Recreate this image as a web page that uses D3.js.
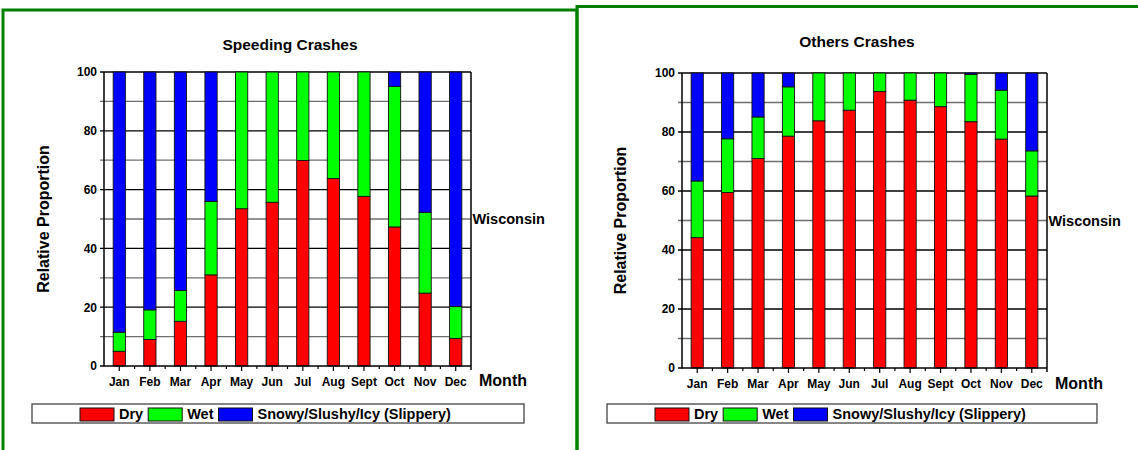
<!DOCTYPE html>
<html><head><meta charset="utf-8">
<script src="https://cdn.jsdelivr.net/npm/d3@7"></script>
<style>
html,body{margin:0;padding:0;background:#fff;}
svg{display:block;font-family:"Liberation Sans",Arial,sans-serif;}
</style></head>
<body>
<svg id="chart" width="1138" height="450"></svg>
<script>
// ---- data ----
const months = ["Jan","Feb","Mar","Apr","May","Jun","Jul","Aug","Sept","Oct","Nov","Dec"];
const seriesNames = ["Dry","Wet","Snowy/Slushy/Icy (Slippery)"];
const yTicks = [0,20,40,60,80,100];

const speedingDry      = [5.0, 9.0, 15.2, 31.0, 53.5, 55.7, 69.9, 63.8, 57.7, 47.3, 24.8, 9.4];
const speedingWet      = [6.5, 10.1, 10.5, 25.0, 46.5, 44.3, 30.1, 36.2, 42.3, 47.8, 27.5, 10.8];
const speedingSlippery = [88.5, 80.9, 74.3, 44.0, 0, 0, 0, 0, 0, 4.9, 47.7, 79.8];

const othersDry      = [44.2, 59.5, 71.0, 78.6, 83.8, 87.4, 93.7, 90.8, 88.6, 83.5, 77.6, 58.3];
const othersWet      = [19.2, 18.2, 14.1, 16.7, 16.2, 12.6, 6.3, 9.2, 11.4, 16.0, 16.6, 15.3];
const othersSlippery = [36.6, 22.3, 14.9, 4.7, 0, 0, 0, 0, 0, 0.5, 5.8, 26.4];

const colors = ["#ff0000","#00ff00","#0000ff"];

const svg = d3.select("#chart");

// panel borders
svg.append("path").attr("d","M3,452V10H577V452").attr("fill","none").attr("stroke","#008000").attr("stroke-width",3);
svg.append("path").attr("d","M577,452V6.5H1140").attr("fill","none").attr("stroke","#008000").attr("stroke-width",3);

function drawChart(cfg, dry, wet, slip) {
  const g = svg.append("g");
  const {x0,x1,y0,y1} = cfg;
  const x = d3.scaleBand().domain(months).range([x0,x1]).paddingInner(0.6).paddingOuter(0.3);
  const y = d3.scaleLinear().domain([0,100]).range([y0,y1]);

  // grid lines (every 10), major at multiples of 20
  const grid = d3.range(10,101,10);
  g.selectAll(".grid").data(grid).enter().append("line")
    .attr("x1", x0-4).attr("x2", x1)
    .attr("y1", d=>y(d)).attr("y2", d=>y(d))
    .attr("stroke", d=> d%20===0 ? "#000" : "#6e6e6e")
    .attr("stroke-width", 1.3);

  // bars
  const rows = months.map((m,i)=>({month:m, Dry:dry[i], Wet:wet[i], Slip:slip[i]}));
  const stack = d3.stack().keys(["Dry","Wet","Slip"])(rows);
  stack.forEach((layer,li)=>{
    g.selectAll(null).data(layer.filter(d=>d[1]-d[0]>0)).enter().append("rect")
      .attr("x", d=>x(d.data.month))
      .attr("width", x.bandwidth())
      .attr("y", d=>y(d[1]))
      .attr("height", d=>y(d[0])-y(d[1]))
      .attr("fill", colors[li])
      .attr("stroke","#111").attr("stroke-width",0.9);
  });

  // frame: left axis, right edge, bottom axis
  g.append("line").attr("x1",x0).attr("x2",x0).attr("y1",y(100)).attr("y2",y(0)+0.5).attr("stroke","#000").attr("stroke-width",1.5);
  g.append("line").attr("x1",x1).attr("x2",x1).attr("y1",y(100)).attr("y2",y(0)+4).attr("stroke","#000").attr("stroke-width",1.5);
  g.append("line").attr("x1",x0-4).attr("x2",x1).attr("y1",y(0)).attr("y2",y(0)).attr("stroke","#000").attr("stroke-width",1.5);

  // y tick labels
  g.selectAll(".yt").data(yTicks).enter().append("text")
    .attr("x", x0-7).attr("y", d=>y(d)).attr("dy","0.36em")
    .attr("text-anchor","end").attr("font-size",12).attr("font-weight","bold")
    .text(d=>d);

  // x ticks
  const step = x.step();
  g.selectAll(".xt").data(months).enter().append("line")
    .attr("x1", d=>x(d)+x.bandwidth()/2).attr("x2", d=>x(d)+x.bandwidth()/2)
    .attr("y1", y(0)).attr("y2", y(0)+5).attr("stroke","#000").attr("stroke-width",1.2);
  g.selectAll(".xm").data(d3.range(1,months.length)).enter().append("line")
    .attr("x1", i=>x0+i*step).attr("x2", i=>x0+i*step)
    .attr("y1", y(0)).attr("y2", y(0)+3).attr("stroke","#000").attr("stroke-width",1.2);
  g.selectAll(".xl").data(months).enter().append("text")
    .attr("x", d=>x(d)+x.bandwidth()/2).attr("y", y(0)+cfg.xLabelDy)
    .attr("text-anchor","middle").attr("font-size",12).attr("font-weight","bold")
    .text(d=>d);

  // titles
  g.append("text").attr("x", cfg.titleX).attr("y", cfg.titleY).attr("text-anchor","middle")
    .attr("font-size",15.5).attr("font-weight","bold").text(cfg.title);
  g.append("text").attr("transform",`translate(${cfg.yLabelX},${(y0+y1)/2}) rotate(-90)`)
    .attr("text-anchor","middle").attr("dy","0.36em")
    .attr("font-size",16).attr("font-weight","bold").text("Relative Proportion");
  g.append("text").attr("x", x1+8).attr("y", y(0)+cfg.monthDy)
    .attr("font-size",16).attr("font-weight","bold").text("Month");
  g.append("text").attr("x", x1+1.5).attr("y", y(50)).attr("dy","0.36em")
    .attr("font-size",14.5).attr("font-weight","bold").text("Wisconsin");

  // legend
  const L = cfg.legend;
  g.append("rect").attr("x",L.x).attr("y",L.y).attr("width",L.w).attr("height",L.h)
    .attr("fill","#fff").attr("stroke","#444").attr("stroke-width",1.3);
  let lx = L.sx;
  seriesNames.forEach((name,i)=>{
    g.append("rect").attr("x",lx).attr("y",L.y+4).attr("width",34).attr("height",13)
      .attr("fill",colors[i]).attr("stroke","#111").attr("stroke-width",1);
    const t = g.append("text").attr("x",lx+39).attr("y",L.y+L.h/2).attr("dy","0.36em")
      .attr("font-size",14.5).attr("font-weight","bold").text(name);
    lx = lx + 39 + t.node().getComputedTextLength() + 5;
  });
}

drawChart({x0:104, x1:471, y0:366, y1:72, title:"Speeding Crashes", titleX:290, titleY:50,
  yLabelX:43, xLabelDy:20, monthDy:20,
  legend:{x:32, y:404, w:492, h:19, sx:80}}, speedingDry, speedingWet, speedingSlippery);

drawChart({x0:682, x1:1047, y0:368, y1:73, title:"Others Crashes", titleX:857, titleY:47,
  yLabelX:620, xLabelDy:20, monthDy:21,
  legend:{x:607, y:404, w:490, h:19, sx:655}}, othersDry, othersWet, othersSlippery);
</script>
</body></html>
